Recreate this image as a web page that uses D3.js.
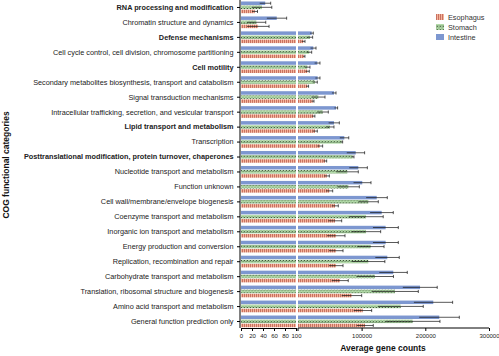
<!DOCTYPE html>
<html><head><meta charset="utf-8">
<script src="https://cdn.jsdelivr.net/npm/d3@7"></script>
<style>body{margin:0;background:#fff}svg{display:block;font-family:"Liberation Sans",Arial,sans-serif}</style>
</head><body><svg id="c" width="499" height="356"></svg>
<script>
const categories = [
 "RNA processing and modification",
 "Chromatin structure and dynamics",
 "Defense mechanisms",
 "Cell cycle control, cell division, chromosome partitioning",
 "Cell motility",
 "Secondary metabolites biosynthesis, transport and catabolism",
 "Signal transduction mechanisms",
 "Intracellular trafficking, secretion, and vesicular transport",
 "Lipid transport and metabolism",
 "Transcription",
 "Posttranslational modification, protein turnover, chaperones",
 "Nucleotide transport and metabolism",
 "Function unknown",
 "Cell wall/membrane/envelope biogenesis",
 "Coenzyme transport and metabolism",
 "Inorganic ion transport and metabolism",
 "Energy production and conversion",
 "Replication, recombination and repair",
 "Carbohydrate transport and metabolism",
 "Translation, ribosomal structure and biogenesis",
 "Amino acid transport and metabolism",
 "General function prediction only"
];
const boldLabels = [0,2,4,8,10];
const seriesNames = ["Intestine","Stomach","Esophagus"];
const intestineMean = [44,65,21600,24100,30400,31000,56600,59800,56600,72800,90700,94800,101000,123700,131500,137700,137700,140300,149700,191700,212500,221900];
const intestineSD   = [10,18,2500,4300,4200,3600,3200,2500,8400,7000,14000,14200,13700,16600,18200,19900,19900,18800,22000,27000,30400,31500];
const stomachMean   = [38,28,18900,17800,14700,26800,32000,38900,50300,68700,86000,77500,79100,110500,106900,106900,114200,110500,121000,152400,161300,180200];
const stomachSD     = [18,17,4200,3800,4200,3600,10500,8800,6300,1500,2000,17300,17300,15700,27000,23000,21000,26000,29000,36600,35500,42800];
const esophagusMean = [25,31,8400,9500,14700,14700,23100,24100,26800,34600,42500,45200,49300,58200,58200,59800,59800,59800,66000,84400,101700,105300];
const esophagusSD   = [5,20,2700,1500,3100,2000,2100,2500,3600,4200,2600,4100,5300,5200,10500,14100,11000,11000,13000,15700,14100,13000];
const leftTicks = [0,20,40,60,80,100];
const rightTicks = [100000,200000,300000];
const legendOrder = ["Esophagus","Stomach","Intestine"];

const svg = d3.select("#c");
const defs = svg.append("defs");
const pe = defs.append("pattern").attr("id","pE").attr("patternUnits","userSpaceOnUse").attr("width",2).attr("height",4);
pe.append("rect").attr("width",2).attr("height",4).attr("fill","#f5b59a");
pe.append("rect").attr("x",0).attr("width",0.7).attr("height",4).attr("fill","#b5544a");
const ps = defs.append("pattern").attr("id","pS").attr("patternUnits","userSpaceOnUse").attr("width",3).attr("height",3.6);
ps.append("rect").attr("width",3).attr("height",3.6).attr("fill","#b7e0ad");
ps.append("path").attr("d","M0.5,0.6L2.3,2.4M2.3,0.6L0.5,2.4").attr("stroke","#22381f").attr("stroke-width",0.7);
const colors = {Intestine:"#7d97d0", Stomach:"url(#pS)", Esophagus:"url(#pE)"};

const y = d3.scaleBand().domain(categories).range([0,329]).paddingInner(0).paddingOuter(0);
const xL = d3.scaleLinear().domain([0,100]).range([241,296]);
const xR = d3.scaleLinear().domain([100,300000]).range([298,489]);
const axisY = 328;

const data = [];
categories.forEach((c,i)=>{
  data.push({c, s:"Intestine", k:0, m:intestineMean[i], sd:intestineSD[i]});
  data.push({c, s:"Stomach", k:1, m:stomachMean[i], sd:stomachSD[i]});
  data.push({c, s:"Esophagus", k:2, m:esophagusMean[i], sd:esophagusSD[i]});
});
const barH = 3.5, barStep = 4.1;
const by = d => y(d.c) + y.bandwidth()/2 - 6 + d.k*barStep;

const g = svg.append("g");
g.selectAll("rect.l").data(data).join("rect")
 .attr("x", xL(0)).attr("y", by).attr("height", barH)
 .attr("width", d => xL(Math.min(d.m,100)) - xL(0))
 .attr("fill", d => colors[d.s]);
g.selectAll("rect.r").data(data.filter(d=>d.m>100)).join("rect")
 .attr("x", xR(100)).attr("y", by).attr("height", barH)
 .attr("width", d => xR(d.m) - xR(100))
 .attr("fill", d => colors[d.s]);
const ex = d => v => d.m>100 ? xR(Math.max(v,100)) : xL(Math.min(v,100));
const eg = g.selectAll("g.err").data(data).join("g");
eg.append("line")
 .attr("x1", d=>ex(d)(d.m - d.sd)).attr("x2", d=>ex(d)(d.m + d.sd))
 .attr("y1", d=>by(d)+barH/2).attr("y2", d=>by(d)+barH/2)
 .attr("stroke","#111").attr("stroke-width",0.7);
eg.append("line")
 .attr("x1", d=>ex(d)(d.m + d.sd)).attr("x2", d=>ex(d)(d.m + d.sd))
 .attr("y1", d=>by(d)+0.2).attr("y2", d=>by(d)+barH-0.2)
 .attr("stroke","#111").attr("stroke-width",0.7);

const ya = svg.append("g").attr("transform","translate(240,0)")
 .call(d3.axisLeft(y).tickSize(3).tickSizeOuter(0));
ya.select(".domain").attr("stroke","#000").attr("stroke-width",1).attr("d","M0,0V328");
ya.selectAll("line").attr("stroke","#000");
ya.selectAll("text").attr("font-size","7.3px").attr("fill","#222")
 .attr("font-weight",(d,i)=>boldLabels.includes(i)?"bold":"normal").attr("dx","-0.5");

const xa1 = svg.append("g").attr("transform",`translate(0,${axisY})`)
 .call(d3.axisBottom(xL).tickValues(leftTicks).tickSize(3).tickSizeOuter(0));
const xa2 = svg.append("g").attr("transform",`translate(0,${axisY})`)
 .call(d3.axisBottom(xR).tickValues(rightTicks).tickSize(3).tickSizeOuter(0).tickFormat(d3.format("d")));
[xa1,xa2].forEach(a=>{
  a.select(".domain").attr("stroke","#000").attr("stroke-width",1);
  a.selectAll("line").attr("stroke","#000");
  a.selectAll("text").attr("font-size","6px").attr("fill","#222").attr("dy","0.6em");
});
xa2.select(".domain").attr("d",`M${xR(100)},0H${xR(300000)}`);
xa2.append("line").attr("x1",xR(100)).attr("x2",xR(100)).attr("y1",0).attr("y2",3).attr("stroke","#000");

svg.append("text").attr("x",383).attr("y",351).attr("text-anchor","middle")
 .attr("font-size","8.5px").attr("font-weight","bold").attr("fill","#111").text("Average gene counts");
svg.append("text").attr("transform","translate(9,165) rotate(-90)").attr("text-anchor","middle")
 .attr("font-size","8.5px").attr("font-weight","bold").attr("fill","#111").text("COG functional categories");

const lg = svg.append("g").attr("transform","translate(436,14)");
legendOrder.forEach((n,i)=>{
  lg.append("rect").attr("x",0).attr("y",i*10).attr("width",8).attr("height",6).attr("fill",colors[n]);
  lg.append("text").attr("x",12).attr("y",i*10+5.5).attr("font-size","7.3px").attr("fill","#333").text(n);
});
</script></body></html>
